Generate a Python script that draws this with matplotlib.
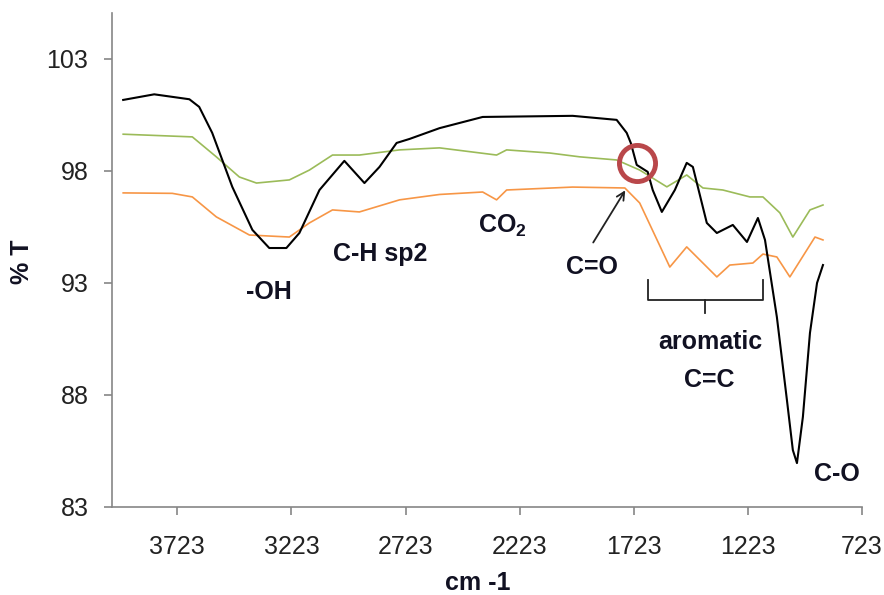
import matplotlib
matplotlib.use("Agg")
import matplotlib.pyplot as plt

plt.rcParams['font.family'] = ['Liberation Sans', 'DejaVu Sans']
plt.rcParams['mathtext.fontset'] = 'custom'
plt.rcParams['mathtext.rm'] = 'Liberation Sans'
plt.rcParams['mathtext.bf'] = 'Liberation Sans:bold'

# ---- data ----
black_wn = [3960, 3824, 3670, 3627, 3570, 3482, 3394, 3320, 3245, 3188, 3100, 2991, 2903,
            2837, 2762, 2705, 2574, 2385, 1991, 1798, 1754, 1736, 1710, 1662, 1640, 1600,
            1543, 1491, 1464, 1403, 1359, 1289, 1227, 1179, 1148, 1096, 1052, 1026, 1008,
            982, 951, 920, 894]
black_t = [101.17, 101.42, 101.20, 100.86, 99.70, 97.29, 95.37, 94.56, 94.56, 95.23, 97.15,
           98.45, 97.46, 98.18, 99.25, 99.43, 99.91, 100.41, 100.46, 100.28, 99.70, 99.25,
           98.27, 97.96, 97.15, 96.17, 97.15, 98.36, 98.18, 95.68, 95.23, 95.59, 94.83,
           95.90, 94.92, 91.48, 87.78, 85.54, 84.96, 87.02, 90.77, 93.00, 93.80]

green_wn = [3960, 3657, 3552, 3451, 3376, 3232, 3144, 3043, 2925, 2749, 2574, 2324, 2280,
            2091, 1960, 1798, 1697, 1578, 1491, 1420, 1333, 1214, 1157, 1083, 1026, 951, 894]
green_t = [99.64, 99.52, 98.63, 97.73, 97.46, 97.60, 98.04, 98.71, 98.71, 98.94, 99.03,
           98.71, 98.94, 98.80, 98.63, 98.49, 98.04, 97.29, 97.82, 97.24, 97.15, 96.84,
           96.84, 96.13, 95.05, 96.26, 96.48]

orange_wn = [3960, 3745, 3657, 3552, 3407, 3232, 3144, 3043, 2925, 2749, 2574, 2385, 2324,
             2280, 1991, 1762, 1697, 1565, 1491, 1359, 1302, 1201, 1157, 1096, 1039, 929, 894]
orange_t = [97.02, 97.00, 96.84, 95.95, 95.14, 95.05, 95.68, 96.26, 96.17, 96.71, 96.95,
            97.06, 96.71, 97.15, 97.28, 97.24, 96.57, 93.71, 94.61, 93.27, 93.80, 93.89,
            94.29, 94.16, 93.27, 95.05, 94.92]

x_ticks = [3723, 3223, 2723, 2223, 1723, 1223, 723]
y_ticks = [83, 88, 93, 98, 103]

# ---- figure ----
W, H = 884, 595
fig = plt.figure(figsize=(W / 100, H / 100), dpi=100)
ax = fig.add_axes([112 / W, 1 - 507 / H, (862 - 112) / W, (507 - 13) / H])

ax.plot(green_wn, green_t, color='#9BBB59', lw=1.2)
ax.plot(orange_wn, orange_t, color='#F79646', lw=1.2)
ax.plot(black_wn, black_t, color='black', lw=1.5)

ax.set_xlim(4009, 723)
ax.set_ylim(83, 105.05)
ax.set_xticks(x_ticks)
ax.set_yticks(y_ticks)
ax.set_xticklabels([str(v) for v in x_ticks])
ax.set_yticklabels([str(v) for v in y_ticks])

for s in ['top', 'right']:
    ax.spines[s].set_visible(False)
for s in ['left', 'bottom']:
    ax.spines[s].set_color('#868686')
    ax.spines[s].set_linewidth(1.2)
ax.tick_params(axis='both', colors='#868686', length=6, width=1.2, labelsize=18,
               labelcolor='#222222')
ax.tick_params(axis='x', pad=14.5)
ax.tick_params(axis='y', pad=11)


def fp(x, y):
    return (x / W, 1 - y / H)


txt = dict(fontsize=18, fontweight='bold', color='#111122', ha='center', va='center')
fig.text(*fp(269, 292), '-OH', **txt)
fig.text(*fp(380, 254), 'C-H sp2', **txt)
fig.text(*fp(502, 226), r'CO$_\mathbf{2}$', **txt)
fig.text(*fp(592, 267), 'C=O', **txt)
fig.text(*fp(710, 342), 'aromatic', **txt)
fig.text(*fp(709, 380), 'C=C', **txt)
fig.text(*fp(837, 474), 'C-O', **txt)
fig.text(*fp(22, 262), '% T', rotation=90, **txt)
fig.text(*fp(478, 583), 'cm -1', **txt)

# arrow to C=O shoulder
ax.annotate('', xy=(1754, 97.24), xytext=(1907, 94.7),
            arrowprops=dict(arrowstyle='->', color='#222222', lw=1.3,
                            mutation_scale=14))

# red circle highlighting the shoulder
ax.plot([1710], [98.36], marker='o', markersize=26, mfc='none', mec='#B9474A',
        mew=3.5, zorder=5)

# bracket under aromatic region
bk = dict(color='#222222', lw=1.3)
ax.plot([1662, 1662, 1157, 1157], [93.13, 92.24, 92.24, 93.13], **bk)
ax.plot([1412, 1412], [92.24, 91.66], **bk)

fig.savefig('out.png', dpi=100)
